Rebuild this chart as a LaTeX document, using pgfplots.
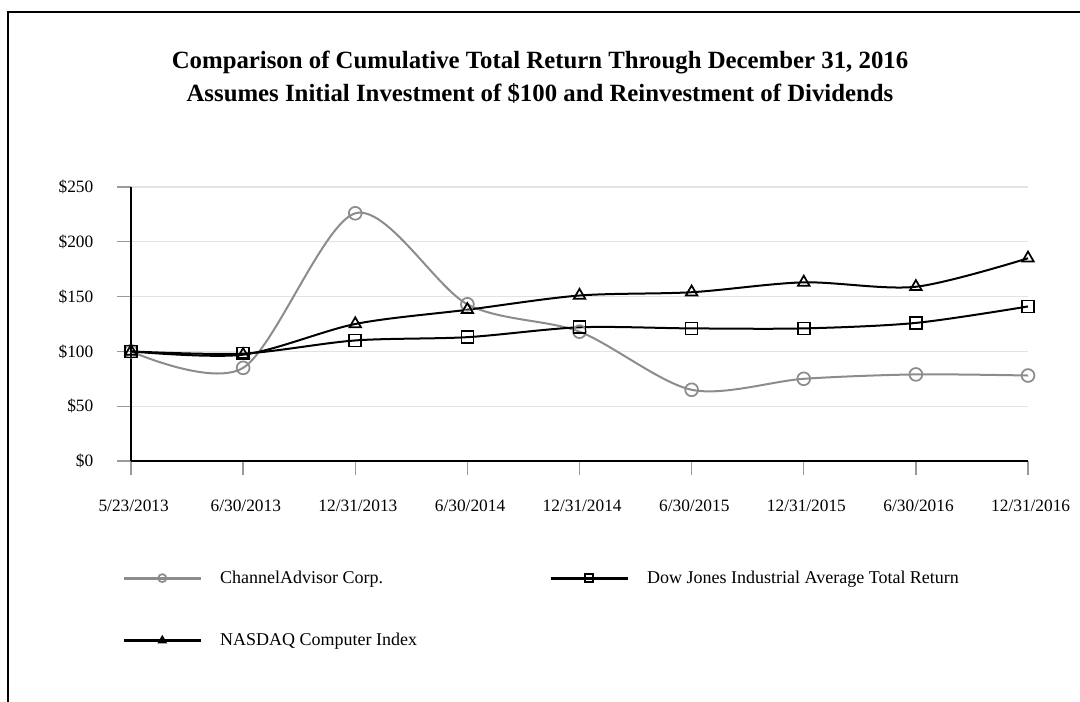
\documentclass[border=0pt]{standalone}
\usepackage{fontspec}
\setmainfont{Liberation Serif}
\usepackage{pgfplots}
\pgfplotsset{compat=1.18}
\definecolor{cagray}{HTML}{8C8C8C}
\definecolor{gridgray}{HTML}{E3E3E3}
\definecolor{tickgray}{HTML}{9A9A9A}
\begin{document}
\begin{tikzpicture}
\useasboundingbox (0,0) rectangle (810pt,-526.5pt);
\draw[line width=1.5pt] (6pt,-526.5pt) -- (6pt,-9pt) -- (810pt,-9pt);
\node[align=center, font=\fontsize{18.6}{24.5}\selectfont\bfseries] at (405pt,-58pt)
  {Comparison of Cumulative Total Return Through December 31, 2016\\Assumes Initial Investment of \$100 and Reinvestment of Dividends};
\begin{axis}[
  at={(98.25pt,-345.75pt)}, anchor=south west,
  scale only axis, width=672.75pt, height=205.5pt,
  xmin=0, xmax=8, ymin=0, ymax=250,
  axis x line=bottom, axis y line=left,
  axis line style={-, line width=1.6pt, black},
  xtick={0,...,8},
  xticklabels={5/23/2013,6/30/2013,12/31/2013,6/30/2014,12/31/2014,6/30/2015,12/31/2015,6/30/2016,12/31/2016},
  ytick={0,50,...,250},
  yticklabels={\$0,\$50,\$100,\$150,\$200,\$250},
  tick align=outside, major tick length=10.5pt,
  tick style={tickgray, line width=1pt},
  ymajorgrids, grid style={gridgray, line width=1pt},
  ticklabel style={font=\fontsize{13}{15}\selectfont},
  xticklabel style={yshift=-15pt, xshift=2pt},
  yticklabel style={xshift=-14.25pt},
  clip=false,
  legend columns=2,
  legend style={at={(axis description cs:-0.01,-0.40)}, anchor=north west, draw=none, fill=none,
    inner sep=0pt, row sep=36pt, font=\fontsize{13.5}{16}\selectfont,
    nodes={inner sep=0pt, anchor=west},
    /tikz/every odd column/.append style={column sep=13.5pt},
    /tikz/every even column/.append style={column sep=99pt}},
  legend cell align=left,
  legend image code/.code={\draw[mark repeat=2,mark phase=2,#1] plot coordinates {(0pt,0pt) (28.9pt,0pt) (57.75pt,0pt)};},
  legend image post style={mark size=3pt, line width=2.2pt},
]
\addplot[cagray, line width=1.5pt, smooth, tension=0.5, mark=o, mark size=4.8pt, mark options={line width=1.3pt, fill=none}]
  coordinates {(0,100) (1,85) (2,226) (3,143) (4,118) (5,65) (6,75) (7,79) (8,78)};
\addlegendentry{ChannelAdvisor Corp.}
\addplot[black, line width=1.5pt, smooth, tension=0.5, mark=square, mark size=4.5pt, mark options={line width=1.3pt, fill=none}]
  coordinates {(0,100) (1,98) (2,110) (3,113) (4,122) (5,121) (6,121) (7,126) (8,141)};
\addlegendentry{Dow Jones Industrial Average Total Return}
\addplot[black, line width=1.5pt, smooth, tension=0.5, mark=triangle, mark size=5pt, mark options={line width=1.3pt, fill=none}]
  coordinates {(0,100) (1,97) (2,125) (3,138) (4,151) (5,154) (6,163) (7,159) (8,185)};
\addlegendentry{NASDAQ Computer Index}
\end{axis}
\end{tikzpicture}
\end{document}
